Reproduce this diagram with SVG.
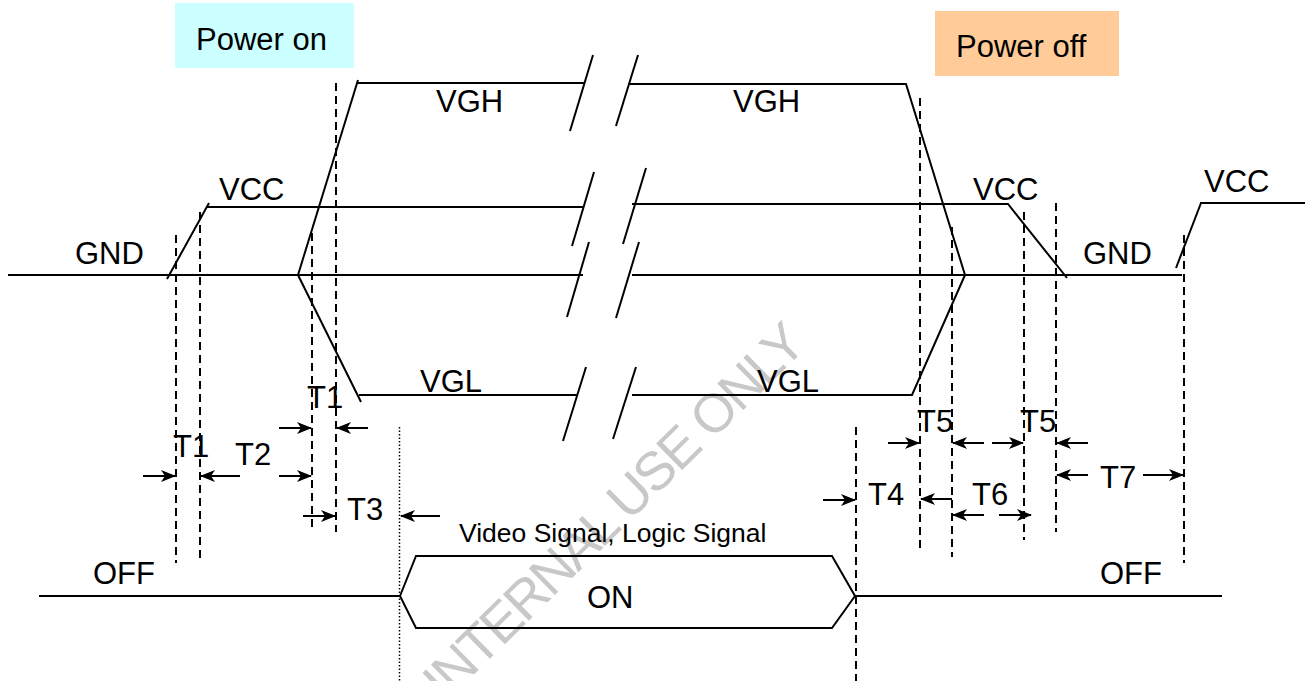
<svg xmlns="http://www.w3.org/2000/svg" width="1307" height="681" viewBox="0 0 1307 681">
<style>
.s{stroke:#000;stroke-width:2;fill:none}
.d{stroke:#000;stroke-width:2;fill:none;stroke-dasharray:8 5}
.dot{stroke:#000;stroke-width:1.5;fill:none;stroke-dasharray:1.5 2}
.a{stroke:#000;stroke-width:2;fill:none;marker-end:url(#ah)}
.t{font-family:"Liberation Sans",Arial,sans-serif;font-size:31px;fill:#000}
.ts{font-family:"Liberation Sans",Arial,sans-serif;font-size:26.5px;fill:#000}
.wm{font-family:"Liberation Sans",Arial,sans-serif;font-size:54px;fill:#c8c8c8}
</style>
<defs>
<marker id="ah" viewBox="0 0 15 12" refX="14" refY="6" markerWidth="15" markerHeight="12" markerUnits="userSpaceOnUse" orient="auto">
<path d="M0,0 L15,6 L0,12 L4,6 z" fill="#000"/>
</marker>
</defs>
<rect width="1307" height="681" fill="#fff"/>

<g id="watermark">
<text class="wm" x="0" y="0" textLength="510" lengthAdjust="spacing" transform="translate(445,703) rotate(-44.5)">INTERNAL USE ONLY</text>
</g>

<g id="power-on">
<rect x="175" y="3" width="179" height="65" fill="#ccffff"/>
<text class="t" x="196" y="50">Power on</text>
</g>
<g id="power-off">
<rect x="935" y="11" width="184" height="65" fill="#ffcc99"/>
<text class="t" x="956" y="57">Power off</text>
</g>

<g id="vgh">
<polyline class="s" points="298,275 358,80"/>
<polyline class="s" points="356,83 585,83"/>
<polyline class="s" points="628,84 906,84 965,275"/>
<line class="s" x1="570" y1="131" x2="593" y2="55"/>
<line class="s" x1="616" y1="126" x2="638" y2="55"/>
<text class="t" x="436" y="112">VGH</text>
<text class="t" x="733" y="112">VGH</text>
</g>

<g id="vcc">
<line class="s" x1="167" y1="279" x2="209" y2="203"/>
<line class="s" x1="207" y1="207" x2="583" y2="207"/>
<polyline class="s" points="632,204 1008,204 1067,278"/>
<line class="s" x1="1176" y1="268" x2="1201" y2="203"/>
<line class="s" x1="1200" y1="203" x2="1305" y2="203"/>
<line class="s" x1="572" y1="246" x2="594" y2="172"/>
<line class="s" x1="623" y1="244" x2="646" y2="168"/>
<text class="t" x="219" y="200">VCC</text>
<text class="t" x="973" y="200">VCC</text>
<text class="t" x="1204" y="192">VCC</text>
</g>

<g id="gnd">
<line class="s" x1="8" y1="275" x2="583" y2="275"/>
<line class="s" x1="632" y1="275" x2="1182" y2="275"/>
<line class="s" x1="567" y1="317" x2="589" y2="242"/>
<line class="s" x1="616" y1="318" x2="639" y2="242"/>
<text class="t" x="75" y="264">GND</text>
<text class="t" x="1083" y="264">GND</text>
</g>

<g id="vgl">
<line class="s" x1="298" y1="275" x2="361" y2="402"/>
<line class="s" x1="359" y1="395" x2="577" y2="395"/>
<polyline class="s" points="632,395 912,395 965,275"/>
<line class="s" x1="563" y1="441" x2="586" y2="367"/>
<line class="s" x1="613" y1="439" x2="636" y2="367"/>
<text class="t" x="420" y="392">VGL</text>
<text class="t" x="757" y="392">VGL</text>
</g>

<g id="signal">
<line class="s" x1="39" y1="596" x2="400" y2="596"/>
<polygon class="s" points="400,596 416,556 832,556 855,596 832,628 416,628"/>
<line class="s" x1="855" y1="596" x2="1222" y2="596"/>
<text class="ts" x="459" y="542">Video Signal, Logic Signal</text>
<text class="t" x="587" y="608">ON</text>
<text class="t" x="93" y="584">OFF</text>
<text class="t" x="1100" y="584">OFF</text>
</g>

<g id="guides">
<line class="d" x1="176" y1="235" x2="176" y2="563"/>
<line class="d" x1="200" y1="212" x2="200" y2="563"/>
<line class="d" x1="312" y1="233" x2="312" y2="532"/>
<line class="d" x1="336" y1="83" x2="336" y2="532"/>
<line class="dot" x1="399.5" y1="427" x2="399.5" y2="681"/>
<line class="d" x1="856" y1="427" x2="856" y2="681"/>
<line class="d" x1="920" y1="98" x2="920" y2="553"/>
<line class="d" x1="952" y1="227" x2="952" y2="557"/>
<line class="d" x1="1024" y1="212" x2="1024" y2="540"/>
<line class="d" x1="1056" y1="203" x2="1056" y2="532"/>
<line class="d" x1="1184" y1="235" x2="1184" y2="563"/>
</g>

<g id="connectors">
<line class="a" x1="143" y1="476" x2="175" y2="476"/>
<line class="a" x1="240" y1="476" x2="201" y2="476"/>
<line class="a" x1="279" y1="476" x2="311" y2="476"/>
<line class="a" x1="279" y1="428" x2="311" y2="428"/>
<line class="a" x1="368" y1="428" x2="337" y2="428"/>
<line class="a" x1="303" y1="516" x2="335" y2="516"/>
<line class="a" x1="440" y1="516" x2="401" y2="516"/>
<line class="a" x1="823" y1="500" x2="855" y2="500"/>
<line class="a" x1="888" y1="443" x2="919" y2="443"/>
<line class="a" x1="984" y1="443" x2="953" y2="443"/>
<line class="a" x1="952" y1="499" x2="921" y2="499"/>
<line class="a" x1="992" y1="443" x2="1023" y2="443"/>
<line class="a" x1="1088" y1="443" x2="1057" y2="443"/>
<line class="a" x1="984" y1="515" x2="953" y2="515"/>
<line class="a" x1="999" y1="515" x2="1031" y2="515"/>
<line class="a" x1="1088" y1="475" x2="1057" y2="475"/>
<line class="a" x1="1143" y1="475" x2="1183" y2="475"/>
</g>

<g id="labels">
<text class="t" x="173" y="457">T1</text>
<text class="t" x="235" y="465">T2</text>
<text class="t" x="307" y="408">T1</text>
<text class="t" x="347" y="520">T3</text>
<text class="t" x="868" y="505">T4</text>
<text class="t" x="917" y="432">T5</text>
<text class="t" x="1020" y="432">T5</text>
<text class="t" x="972" y="505">T6</text>
<text class="t" x="1100" y="488">T7</text>
</g>
</svg>
